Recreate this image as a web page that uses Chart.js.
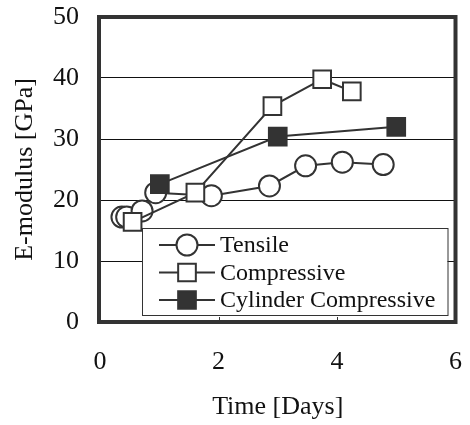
<!DOCTYPE html>
<html>
<head>
<meta charset="utf-8">
<script src="https://cdn.jsdelivr.net/npm/chart.js@4.4.1/dist/chart.umd.min.js"></script>
<style>
  html, body { margin: 0; padding: 0; background: #fff; }
  #wrap { width: 470px; height: 425px; }
</style>
</head>
<body>
<div id="wrap"><canvas id="chart" width="470" height="425"></canvas></div>
<script>
// values
const tensileDays = [0.37, 0.45, 0.71, 0.94, 1.88, 2.86, 3.47, 4.09, 4.78];
const tensileE    = [17.2, 17.2, 18.2, 21.2, 20.7, 22.3, 25.6, 26.2, 25.8];

const compDays = [0.55, 1.61, 2.91, 3.75, 4.25];
const compE    = [16.4, 21.2, 35.4, 39.8, 37.8];

const cylDays = [1.01, 3.00, 5.00];
const cylE    = [22.6, 30.4, 32.0];

const seriesNames = ['Tensile', 'Compressive', 'Cylinder Compressive'];
const xTicks = [0, 2, 4, 6];
const yTicks = [0, 10, 20, 30, 40, 50];

const ink = '#333';
const serif = "'Liberation Serif', 'Times New Roman', serif";

function toPoints(xs, ys) {
    return xs.map((x, i) => ({ x: x, y: ys[i] }));
}

// legend box sits inside the plot, drawn under the data
const innerLegend = {
    id: 'innerLegend',
    beforeDatasetsDraw(chart) {
        const ctx = chart.ctx;
        const a = chart.chartArea;
        const left = a.left + 42, top = a.top + 211, right = a.right - 8, bottom = a.bottom - 7;
        ctx.save();
        ctx.fillStyle = '#fff';
        ctx.fillRect(left, top, right - left, bottom - top);
        ctx.strokeStyle = ink;
        ctx.lineWidth = 1;
        ctx.strokeRect(left + 0.5, top + 0.5, right - left, bottom - top);

        chart.data.datasets.forEach((ds, i) => {
            const y = top + 17 + i * 27.5;
            ctx.strokeStyle = ink;
            ctx.lineWidth = 2;
            ctx.beginPath();
            ctx.moveTo(left + 17, y);
            ctx.lineTo(left + 73, y);
            ctx.stroke();
            ctx.fillStyle = ds.pointBackgroundColor;
            Chart.helpers.drawPoint(ctx, {
                pointStyle: ds.pointStyle,
                radius: ds.pointRadius,
                borderWidth: ds.pointBorderWidth,
                rotation: 0
            }, left + 45, y);
            ctx.fillStyle = '#111';
            ctx.font = '24px ' + serif;
            ctx.textBaseline = 'middle';
            ctx.textAlign = 'left';
            ctx.fillText(ds.label, left + 78, y + 1);
        });
        ctx.restore();
    }
};

// thick frame round the plot area
const plotFrame = {
    id: 'plotFrame',
    afterDatasetsDraw(chart) {
        const ctx = chart.ctx;
        const a = chart.chartArea;
        ctx.save();
        ctx.strokeStyle = ink;
        ctx.lineWidth = 4;
        ctx.strokeRect(a.left - 1, a.top, a.right - a.left + 1, a.bottom - a.top);
        // small ticks on the bottom axis
        ctx.lineWidth = 1;
        const xs = chart.scales.x;
        [2, 4].forEach(v => {
            const px = Math.round(xs.getPixelForValue(v)) + 0.5;
            ctx.beginPath();
            ctx.moveTo(px, a.bottom);
            ctx.lineTo(px, a.bottom - 5);
            ctx.stroke();
        });
        ctx.restore();
    }
};

// stop the tick labels from pushing the plot area around
function noLabelPadding(s) {
    s.paddingTop = 0;
    s.paddingBottom = 0;
    s.paddingLeft = 0;
    s.paddingRight = 0;
}

const common = {
    borderColor: ink,
    borderWidth: 2,
    pointBorderColor: ink,
    pointBorderWidth: 2,
    showLine: true,
    tension: 0
};

new Chart(document.getElementById('chart'), {
    type: 'scatter',
    data: {
        datasets: [
            Object.assign({}, common, {
                label: seriesNames[0],
                data: toPoints(tensileDays, tensileE),
                pointStyle: 'circle',
                pointRadius: 10.5,
                pointBackgroundColor: '#fff',
                order: 3
            }),
            Object.assign({}, common, {
                label: seriesNames[1],
                data: toPoints(compDays, compE),
                pointStyle: 'rect',
                pointRadius: 12.5,
                pointBackgroundColor: '#fff',
                order: 2
            }),
            Object.assign({}, common, {
                label: seriesNames[2],
                data: toPoints(cylDays, cylE),
                pointStyle: 'rect',
                pointRadius: 12.5,
                pointBackgroundColor: ink,
                order: 1
            })
        ]
    },
    options: {
        responsive: false,
        animation: false,
        layout: { padding: { top: 17, right: 12, left: 0, bottom: 0 } },
        plugins: {
            legend: { display: false },
            tooltip: { enabled: false }
        },
        scales: {
            x: {
                type: 'linear',
                min: 0,
                max: 6,
                afterFit: s => { s.height = 103; noLabelPadding(s); },
                afterBuildTicks: s => { s.ticks = xTicks.map(v => ({ value: v })); },
                grid: { display: false, drawTicks: false },
                border: { display: false },
                ticks: { color: '#111', font: { family: serif, size: 26 }, padding: 25 },
                title: {
                    display: true,
                    text: 'Time [Days]',
                    color: '#111',
                    font: { family: serif, size: 26 },
                    padding: { top: 0, bottom: 2 }
                }
            },
            y: {
                type: 'linear',
                min: 0,
                max: 50,
                afterFit: s => { s.width = 100; noLabelPadding(s); },
                afterBuildTicks: s => { s.ticks = yTicks.map(v => ({ value: v })); },
                grid: { color: '#111', lineWidth: 1, drawTicks: false },
                border: { display: false },
                ticks: { color: '#111', font: { family: serif, size: 26 }, padding: 21 },
                title: {
                    display: true,
                    text: 'E-modulus [GPa]',
                    color: '#111',
                    font: { family: serif, size: 26 },
                    padding: { top: 10, bottom: 0 }
                }
            }
        }
    },
    plugins: [innerLegend, plotFrame]
});
</script>
</body>
</html>
